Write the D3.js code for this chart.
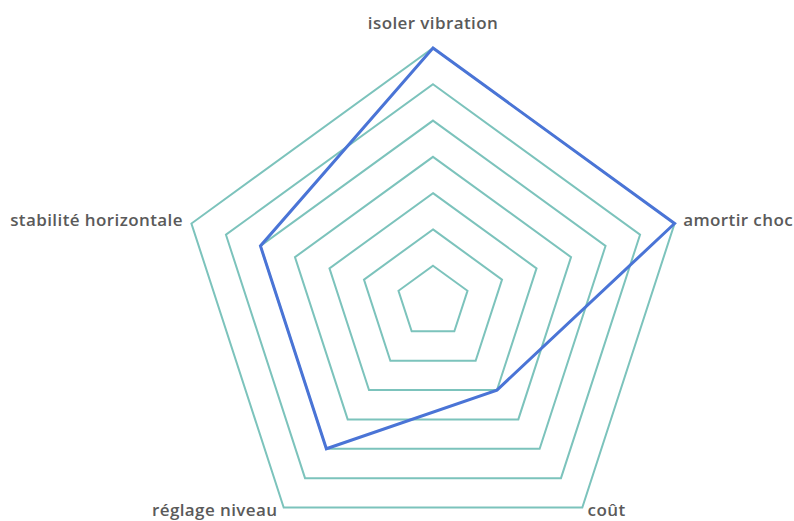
<!DOCTYPE html>
<html>
<head>
<meta charset="utf-8">
<script src="https://cdn.jsdelivr.net/npm/d3@7"></script>
<style>
  html, body { margin: 0; padding: 0; background: #ffffff; }
  svg { display: block; }
  .axis-label { font-family: "Open Sans", sans-serif; font-size: 17px; font-weight: 600; letter-spacing: 0.4px; fill: #5a5a5a; }
</style>
</head>
<body>
<svg id="chart" width="794" height="521"></svg>
<script>
// Criteria around the radar, clockwise from the top
const categories = ["isoler vibration", "amortir choc", "coût", "réglage niveau", "stabilité horizontale"];
// Score for each criterion
const values = [7, 7, 3, 5, 5];
// Grid rings
const levels = [1, 2, 3, 4, 5, 6, 7];

const width = 794, height = 521;
const cx = 433, cy = 302, outer = 254;

const svg = d3.select("#chart");

const r = d3.scaleLinear().domain([0, 7]).range([0, outer]);
const angle = d3.scaleLinear().domain([0, categories.length]).range([0, 2 * Math.PI]);

const g = svg.append("g").attr("transform", `translate(${cx},${cy})`);

const radial = d3.lineRadial()
  .angle((d, i) => angle(i))
  .radius(d => r(d))
  .curve(d3.curveLinearClosed);

// Concentric pentagon grid
g.selectAll("path.ring")
  .data(levels)
  .join("path")
  .attr("class", "ring")
  .attr("d", lv => radial(categories.map(() => lv)))
  .attr("fill", "none")
  .attr("stroke", "#7cc3bc")
  .attr("stroke-width", 2)
  .attr("stroke-linejoin", "miter");

// Data polygon
g.append("path")
  .attr("d", radial(values))
  .attr("fill", "none")
  .attr("stroke", "#4a74d6")
  .attr("stroke-width", 3)
  .attr("stroke-linejoin", "miter");

// Category labels
const pad = 9;
g.selectAll("text.axis-label")
  .data(categories)
  .join("text")
  .attr("class", "axis-label")
  .each(function (d, i) {
    const a = angle(i);
    const sx = Math.sin(a), sy = -Math.cos(a);
    const rr = r(7) + pad;
    let x = rr * sx, y = rr * sy;
    let anchor, dy = "0.35em";
    if (Math.abs(sx) < 0.01) { anchor = "middle"; dy = "-0.6em"; }
    else if (sx > 0) { anchor = "start"; }
    else { anchor = "end"; }
    if (sy > 0.5) { dy = "0.07em"; if (sx < 0) x -= 1; }
    else if (Math.abs(sx) > 0.01) { y -= 1; }
    d3.select(this)
      .attr("x", x)
      .attr("y", y)
      .attr("dy", dy)
      .attr("text-anchor", anchor)
      .text(d);
  });
</script>
</body>
</html>
